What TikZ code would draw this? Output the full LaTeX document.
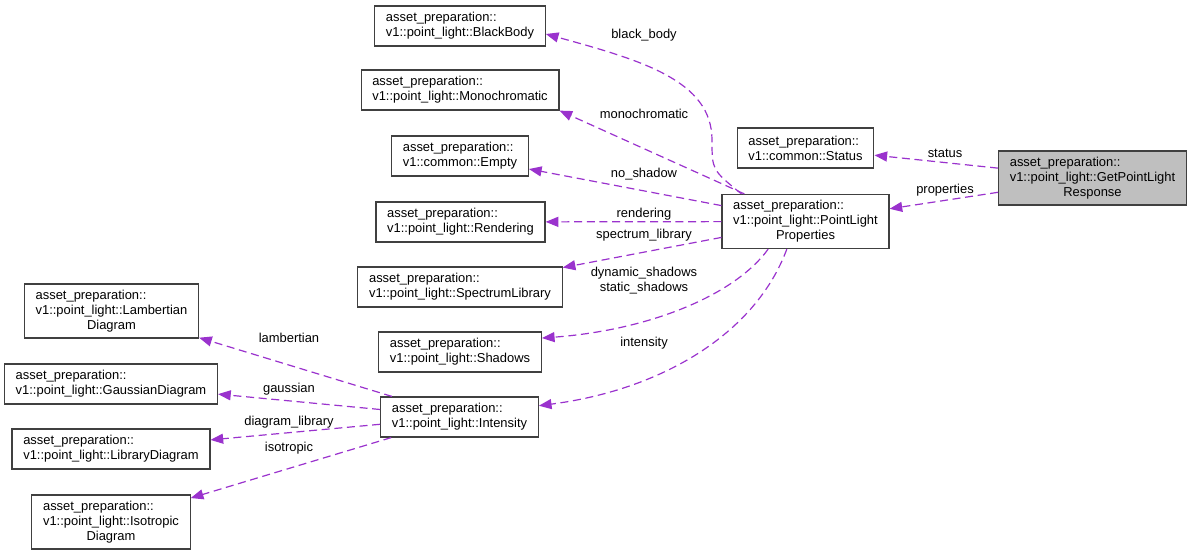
\documentclass[tikz,border=0pt]{standalone}
\usepackage{fontspec}
\setmainfont{Liberation Sans}
\usetikzlibrary{arrows.meta}
\definecolor{depcol}{HTML}{9A32CD}
\definecolor{boxcol}{HTML}{404040}
\definecolor{maincol}{HTML}{BFBFBF}
\newsavebox{\widestline}
% centre a last line under the widest one
\newcommand{\ctrline}[2]{\sbox{\widestline}{#1}\makebox[\wd\widestline][c]{#2}}

\begin{document}
\begin{tikzpicture}
  [x=0.75pt,y=-0.75pt,
   cls/.style={draw=boxcol,line width=0.9pt,align=left,inner xsep=8.4pt,
     inner ysep=2pt,minimum height=30pt,font=\fontsize{9.7}{11.3}\selectfont},
   tall/.style={minimum height=40.5pt},
   dep/.style={draw=depcol,line width=0.9pt,dash pattern=on 6pt off 3.5pt,
     -{Triangle[length=9.5pt,width=7.5pt]}},
   lbl/.style={font=\fontsize{9.7}{11.3}\selectfont,inner sep=0pt,align=center}]
  \useasboundingbox (0,0) rectangle (1192,557);

  \node[cls,tall,fill=maincol] (resp) at (1092.5,178)
    {asset\_preparation::\\v1::point\_light::GetPointLight\\\ctrline{v1::point\_light::GetPointLight}{Response}};
  \node[cls] (status) at (805.5,148) {asset\_preparation::\\v1::common::Status};
  \node[cls,tall] (plp) at (805.5,221.5)
    {asset\_preparation::\\v1::point\_light::PointLight\\\ctrline{v1::point\_light::PointLight}{Properties}};

  \node[cls] (bb) at (460,26) {asset\_preparation::\\v1::point\_light::BlackBody};
  \node[cls] (mono) at (460,90) {asset\_preparation::\\v1::point\_light::Monochromatic};
  \node[cls] (empty) at (460,156) {asset\_preparation::\\v1::common::Empty};
  \node[cls] (rend) at (460.5,222) {asset\_preparation::\\v1::point\_light::Rendering};
  \node[cls] (speclib) at (460,287) {asset\_preparation::\\v1::point\_light::SpectrumLibrary};
  \node[cls] (shadows) at (460,352) {asset\_preparation::\\v1::point\_light::Shadows};
  \node[cls] (intens) at (459.5,417) {asset\_preparation::\\v1::point\_light::Intensity};

  \node[cls,tall] (lamb) at (111.5,311)
    {asset\_preparation::\\v1::point\_light::Lambertian\\\ctrline{v1::point\_light::Lambertian}{Diagram}};
  \node[cls] (gauss) at (111,384) {asset\_preparation::\\v1::point\_light::GaussianDiagram};
  \node[cls] (libdiag) at (111,449) {asset\_preparation::\\v1::point\_light::LibraryDiagram};
  \node[cls,tall] (iso) at (111,522)
    {asset\_preparation::\\v1::point\_light::Isotropic\\\ctrline{v1::point\_light::Isotropic}{Diagram}};

  % response members
  \draw[dep] (resp) -- (status);
  \draw[dep] (resp) -- (plp);

  % point light properties members
  \draw[dep] ([xshift=15pt]plp.north west) .. controls (712,170) .. (712,140)
    .. controls (712,80) and (640,60) .. ([yshift=-6pt]bb.east);
  \draw[dep] (plp) -- (mono.south east);
  \draw[dep] (plp) -- (empty);
  \draw[dep] (plp) -- (rend);
  \draw[dep] (plp) -- (speclib);
  \draw[dep] ([xshift=-28pt]plp.south) .. controls (735,295) and (650,330)
    .. ([yshift=-5pt]shadows.north east);
  \draw[dep] ([xshift=-14pt]plp.south) .. controls (755,335) and (660,390)
    .. ([yshift=-7pt]intens.north east);

  % intensity members
  \draw[dep] (intens) -- (lamb);
  \draw[dep] (intens) -- (gauss);
  \draw[dep] (intens) -- (libdiag);
  \draw[dep] (intens) -- (iso);

  \node[lbl] (lstatus) at (945,153) {status};
  \node[lbl] (lprops) at (945,190) {properties};
  \node[lbl] (lbb) at (644,35) {black\_body};
  \node[lbl] (lmono) at (644,114) {monochromatic};
  \node[lbl] (lnoshadow) at (644,174) {no\_shadow};
  \node[lbl] (lrend) at (644,214) {rendering};
  \node[lbl] (lspeclib) at (644,235) {spectrum\_library};
  \node[lbl] (lshadows) at (644,281) {dynamic\_shadows\\static\_shadows};
  \node[lbl] (lintens) at (644,343) {intensity};
  \node[lbl] (llamb) at (289,338) {lambertian};
  \node[lbl] (lgauss) at (289,389) {gaussian};
  \node[lbl] (llibdiag) at (289,422) {diagram\_library};
  \node[lbl] (liso) at (289,448) {isotropic};
\end{tikzpicture}
\end{document}
